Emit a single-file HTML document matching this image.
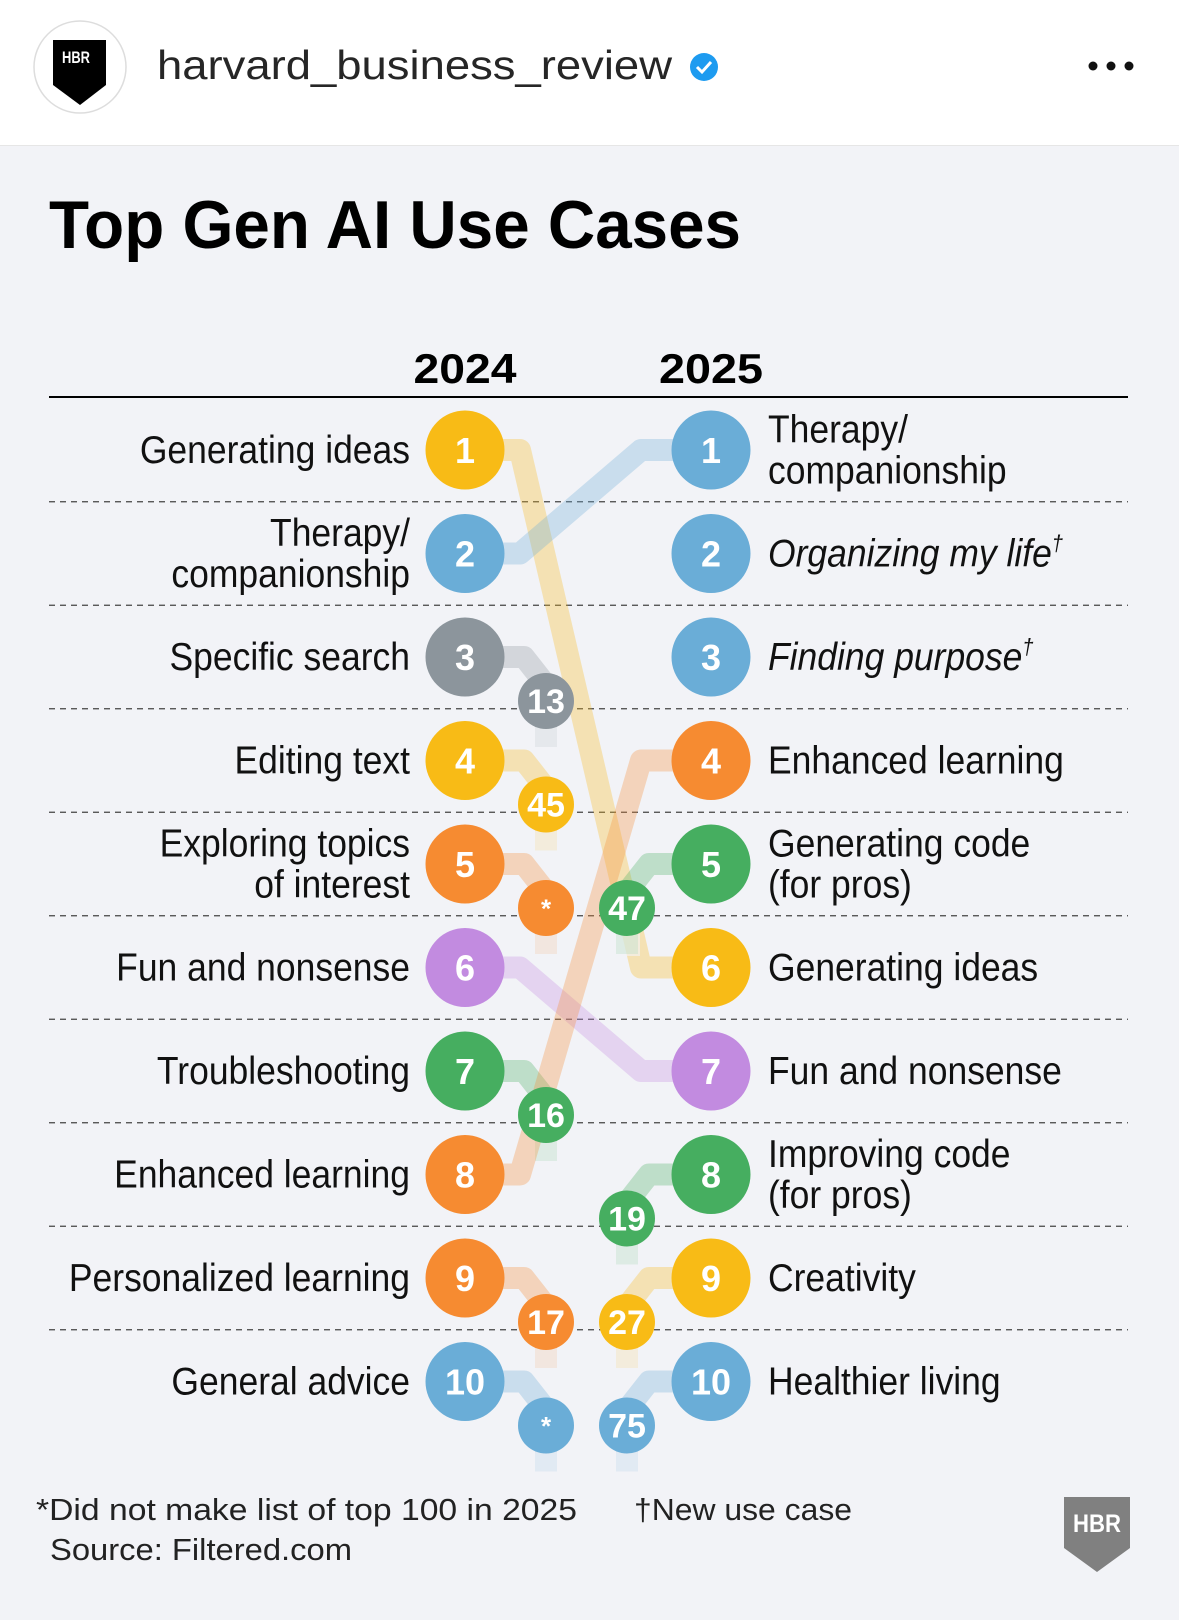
<!DOCTYPE html>
<html><head><meta charset="utf-8">
<style>
html,body{margin:0;padding:0;background:#fff;}
svg{display:block;}
text{font-family:"Liberation Sans",sans-serif;}
</style></head>
<body>
<svg id="chart" width="1179" height="1624" viewBox="0 0 1179 1624" xmlns="http://www.w3.org/2000/svg">
  <defs>
    <linearGradient id="fade" x1="0" y1="0" x2="0" y2="1">
      <stop offset="0" stop-color="#fff" stop-opacity="1"/>
      <stop offset="1" stop-color="#fff" stop-opacity="0"/>
    </linearGradient>
  </defs>
  <rect x="0" y="0" width="1179" height="146" fill="#ffffff"/>
  <rect x="0" y="145" width="1179" height="1" fill="#e6e6e6"/>
  <rect x="0" y="146" width="1179" height="1474" fill="#f2f3f7"/>
  <g>
    <circle cx="80" cy="67" r="46" fill="#fff" stroke="#dddddd" stroke-width="1.5"/>
    <path d="M53 40 H106 V85 L80 105 L53 85 Z" fill="#000"/>
    <text x="62" y="63" font-size="17" font-weight="bold" fill="#fff" textLength="28" lengthAdjust="spacingAndGlyphs">HBR</text>
  </g>
  <text x="157" y="79" font-size="41" fill="#262626" textLength="515" lengthAdjust="spacingAndGlyphs">harvard_business_review</text>
  <g>
    <circle cx="704" cy="67" r="14" fill="#1d9bf0"/>
    <path d="M697 67 l5 5 l9 -10" stroke="#fff" stroke-width="3" fill="none"/>
  </g>
  <g fill="#111">
    <circle cx="1093" cy="66" r="4.5"/><circle cx="1111" cy="66" r="4.5"/><circle cx="1129" cy="66" r="4.5"/>
  </g>
  <text x="49" y="248" font-size="68" font-weight="bold" fill="#000" textLength="692" lengthAdjust="spacingAndGlyphs">Top Gen AI Use Cases</text>
  <text x="465" y="383" font-size="42" font-weight="bold" text-anchor="middle" textLength="103" lengthAdjust="spacingAndGlyphs">2024</text>
  <text x="711" y="383" font-size="42" font-weight="bold" text-anchor="middle" textLength="104" lengthAdjust="spacingAndGlyphs">2025</text>
  <rect x="49" y="396" width="1079" height="2" fill="#000"/>
  <g id="grid"></g>
  <g id="links"></g>
  <g id="nodes"></g>
  <g id="labels"></g>
  <text x="36" y="1520" font-size="31" fill="#222" textLength="541" lengthAdjust="spacingAndGlyphs">*Did not make list of top 100 in 2025</text>
  <text x="634" y="1520" font-size="31" fill="#222" textLength="218" lengthAdjust="spacingAndGlyphs">†New use case</text>
  <text x="50" y="1560" font-size="31" fill="#222" textLength="302" lengthAdjust="spacingAndGlyphs">Source: Filtered.com</text>
  <g>
    <path d="M1064 1497 H1130 V1548 L1097 1572 L1064 1548 Z" fill="#808080"/>
    <text x="1073" y="1532" font-size="25" font-weight="bold" fill="#fff" textLength="48" lengthAdjust="spacingAndGlyphs">HBR</text>
  </g>
</svg>
<script>
const labels2024 = [["Generating ideas"],["Therapy/","companionship"],["Specific search"],["Editing text"],["Exploring topics","of interest"],["Fun and nonsense"],["Troubleshooting"],["Enhanced learning"],["Personalized learning"],["General advice"]];
const colors2024 = ["#f8bb16","#6aadd7","#8c959c","#f8bb16","#f68b31","#c28be0","#46ae60","#f68b31","#f68b31","#6aadd7"];
const labels2025 = [["Therapy/","companionship"],["Organizing my life"],["Finding purpose"],["Enhanced learning"],["Generating code","(for pros)"],["Generating ideas"],["Fun and nonsense"],["Improving code","(for pros)"],["Creativity"],["Healthier living"]];
const colors2025 = ["#6aadd7","#6aadd7","#6aadd7","#f68b31","#46ae60","#f8bb16","#c28be0","#46ae60","#f8bb16","#6aadd7"];
const isNew2025 = [false,true,true,false,false,false,false,false,false,false];
const rank2025Of2024 = [6,1,13,45,"*",7,16,4,17,"*"];
const rank2024Of2025 = [null,null,null,null,47,null,null,19,27,75];

const NS="http://www.w3.org/2000/svg";
const L0=465, R0=711, SL=546, SR=627, Y0=450, DY=103.5, RB=39.5, RS=28;
const yOf = r => Y0 + (r-1)*DY;
function mk(tag, attrs, parent){const e=document.createElementNS(NS,tag);for(const k in attrs)e.setAttribute(k,attrs[k]);parent.appendChild(e);return e;}
const grid=document.getElementById('grid'),links=document.getElementById('links'),nodes=document.getElementById('nodes'),lab=document.getElementById('labels');

for(let i=1;i<10;i++){
  const ln=mk('line',{x1:49,x2:1128,y1:yOf(i)+DY/2,y2:yOf(i)+DY/2,stroke:'#444','stroke-width':1.3,'stroke-dasharray':'6 5'},grid);
  
  
}
function link(pts,color){
  const p=mk('polyline',{points:pts.map(q=>q.join(',')).join(' '),fill:'none',stroke:color,'stroke-width':22,'stroke-opacity':0.3,'stroke-linejoin':'round','stroke-linecap':'butt'},links);
  
  
}
function stubFade(x,y){
  const r=mk('rect',{x:x-13,y:y+RS-2,width:26,height:22,fill:'#f2f3f7','fill-opacity':0.6},links);
  
  
}
function circle(cx,cy,r,color,txt,fs,name){
  const g=mk('g',{},nodes);
  
  
  mk('circle',{cx:cx,cy:cy,r:r,fill:color},g);
  const t=mk('text',{x:cx,y:cy+fs*0.36,'font-size':fs,fill:'#fff','text-anchor':'middle','font-weight':'bold'},g);
  t.textContent=txt;
}
function labelText(x,y,lines,anchor,italic,dagger,name){
  const g=mk('g',{transform:`translate(${x},0) scale(0.91,1)`},lab);
  
  
  const n=lines.length;
  lines.forEach((s,k)=>{
    const yy=y+13+(k-(n-1)/2)*41;
    const t=mk('text',{x:0,y:yy,'font-size':39,fill:'#111','text-anchor':anchor,'font-style':italic?'italic':'normal'},g);
    t.textContent=s;
    if(dagger){const d=mk('tspan',{'font-size':22,dy:-16},t);d.textContent='†';}
  });
}
rank2025Of2024.forEach((r,i)=>{
  const y1=yOf(i+1), c=colors2024[i];
  if(typeof r==='number' && r<=10){
    const y2=yOf(r);
    link([[L0,y1],[L0+55,y1],[R0-70,y2],[R0,y2]],c);
  } else {
    const ys=y1+44;
    link([[L0,y1],[SL-22,y1],[SL,y1+28],[SL,ys+46]],c);
    stubFade(SL,ys);
  }
});
rank2024Of2025.forEach((r,i)=>{
  if(r===null)return;
  const y2=yOf(i+1), ys=y2+44, c=colors2025[i];
  link([[R0,y2],[SR+22,y2],[SR,y2+28],[SR,ys+46]],c);
  stubFade(SR,ys);
});
rank2025Of2024.forEach((r,i)=>{
  circle(L0,yOf(i+1),RB,colors2024[i],String(i+1),36,'rank-2024-'+(i+1));
  if(!(typeof r==='number' && r<=10)) circle(SL,yOf(i+1)+44,RS,colors2024[i],String(r),r==='*'?26:34,'rank-2025-of-2024-item');
  labelText(410,yOf(i+1),labels2024[i],'end',false,false,'label-2024-'+(i+1));
});
colors2025.forEach((c,i)=>{
  circle(R0,yOf(i+1),RB,c,String(i+1),36,'rank-2025-'+(i+1));
  const r=rank2024Of2025[i];
  if(r!==null) circle(SR,yOf(i+1)+44,RS,c,String(r),34,'rank-2024-of-2025-item');
  labelText(768,yOf(i+1),labels2025[i],'start',isNew2025[i],isNew2025[i],'label-2025-'+(i+1));
});
</script>
</body></html>
